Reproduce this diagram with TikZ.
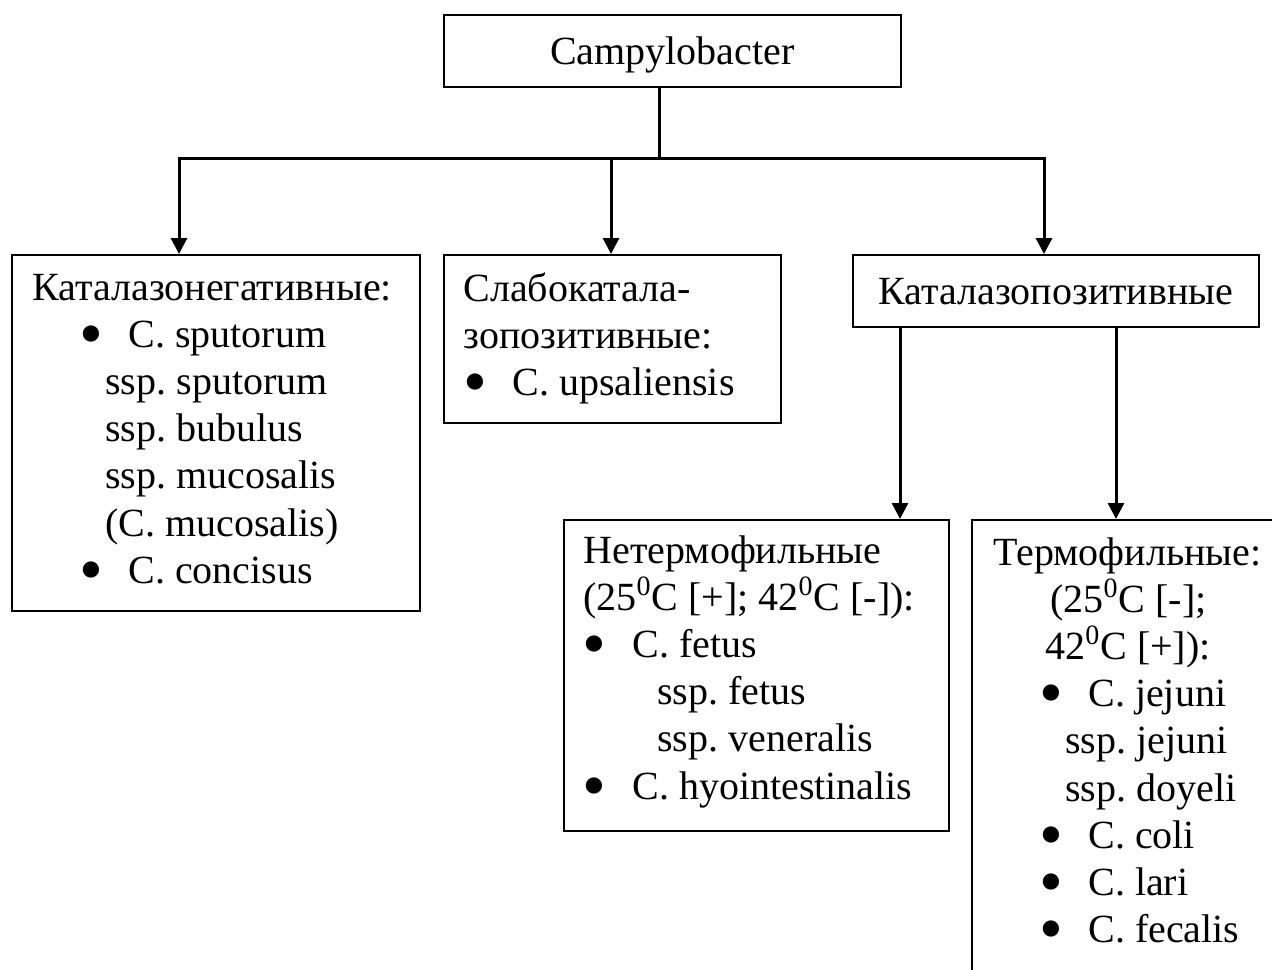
\documentclass[tikz,border=0pt]{standalone}
\usepackage{fontspec}
\setmainfont{Liberation Serif}
\usetikzlibrary{arrows.meta}

% 圆点条目: 圆点缩进, 圆点到文字的距离
\newcommand{\bigdot}{\smash{\hspace*{-1.5pt}\raisebox{-4.6pt}{\scalebox{1.7}{\textbullet}}}}
\newcommand{\dotitem}[2]{\hspace*{#1}\rlap{\bigdot}\hspace*{#2}}
\newcommand{\zsup}{\textsuperscript{0}}

\begin{document}
\frenchspacing
\begin{tikzpicture}[x=0.5pt, y=-0.5pt,
    box/.style={draw, line width=0.9pt, anchor=north west, inner sep=0pt},
    txt/.style={anchor=base west, inner sep=0pt},
    conn/.style={line width=1.5pt},
    arr/.style={line width=1.5pt, -{Triangle[length=8pt, width=8pt]}},
    font=\fontsize{20}{23.6}\selectfont]

    \useasboundingbox (0,0) rectangle (1272,969);
    \clip (0,0) rectangle (1272,969);

    % ================= 方框 =================
    \node[box, minimum width=228.5pt, minimum height=36pt, text height=17.6pt, text depth=4.4pt] (camp) at (443,14) {Campylobacter};
    \node[box, minimum width=204pt, minimum height=178pt] (neg) at (11,254) {};
    \node[box, minimum width=168.5pt, minimum height=84pt] (weak) at (443,254) {};
    \node[box, minimum width=203pt, minimum height=36pt, text height=14pt, text depth=0.6pt] (pos) at (852,254) {Каталазопозитивные};
    \node[box, minimum width=192.5pt, minimum height=155.5pt] (nonth) at (563,519) {};
    \node[box, minimum width=170pt, minimum height=240pt] (therm) at (971,519) {}; % 下方和右侧被裁掉

    % ================= 文字 =================
    \node[txt] (negtxt) at (32,300) {\parbox[t]{200pt}{%
        Каталазонегативные:\\
        \dotitem{25pt}{23pt}C. sputorum\\
        \hspace*{36.5pt}ssp. sputorum\\
        \hspace*{36.5pt}ssp. bubulus\\
        \hspace*{36.5pt}ssp. mucosalis\\
        \hspace*{36.5pt}(C. mucosalis)\\
        \dotitem{25pt}{23pt}C. concisus}};

    \node[txt] (weaktxt) at (463,301) {\parbox[t]{160pt}{%
        Слабокатала-\\
        зопозитивные:\\
        \dotitem{1.5pt}{23pt}C. upsaliensis}};

    \node[txt] (nonthtxt) at (583,563) {\parbox[t]{185pt}{%
        Нетермофильные\\
        (25\zsup C [+]; 42\zsup C [-]):\\
        \dotitem{1pt}{23.5pt}C. fetus\\
        \hspace*{37pt}ssp. fetus\\
        \hspace*{37pt}ssp. veneralis\\
        \dotitem{1pt}{23.5pt}C. hyointestinalis}};

    \node[txt] (thermtxt) at (993,565) {\parbox[t]{150pt}{%
        Термофильные:\\
        \hspace*{28.5pt}(25\zsup C [-];\\
        \hspace*{26pt}42\zsup C [+]):\\
        \dotitem{24.5pt}{23pt}C. jejuni\\
        \hspace*{36pt}ssp. jejuni\\
        \hspace*{36pt}ssp. doyeli\\
        \dotitem{24.5pt}{23pt}C. coli\\
        \dotitem{24.5pt}{23pt}C. lari\\
        \dotitem{24.5pt}{23pt}C. fecalis}};

    % ================= 连线 =================
    \coordinate (bus) at (659,158);
    \coordinate (jn) at (179,158);
    \coordinate (jw) at (611,158);
    \coordinate (jp) at (1044,158);
    \coordinate (dn) at (900,0);
    \coordinate (dt) at (1116,0);

    \draw[conn] (camp.south -| bus) -- (bus);
    \draw[arr] (bus) -- (jn) -- (jn |- neg.north);
    \draw[arr] (bus) -- (jp) -- (jp |- pos.north);
    \draw[arr] (jw) -- (jw |- weak.north);

    \draw[arr] (pos.south -| dn) -- (nonth.north -| dn);
    \draw[arr] (pos.south -| dt) -- (therm.north -| dt);

\end{tikzpicture}
\end{document}
